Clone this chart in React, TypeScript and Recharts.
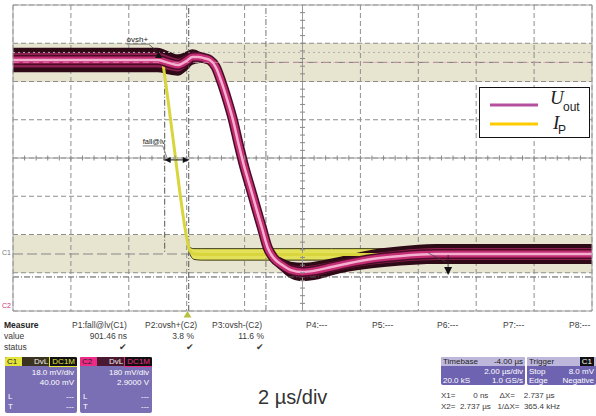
import {
  ComposedChart,
  Line,
  Area,
  XAxis,
  YAxis,
  CartesianGrid,
  ReferenceLine,
  ReferenceDot,
  Legend,
} from 'recharts';

// screen: 10 x 2 µs/div horizontally, 8 div vertically (0 = bottom edge)
const xTicks = [-6, -4, -2, 0, 2, 4, 6, 8, 10, 12, 14];
const yTicks = [0, 1, 2, 3, 4, 5, 6, 7, 8];

// C2 trace, U_out (divisions)
const uTime = [-6, -3, -1, -0.6, -0.3, 0, 0.2, 0.4, 0.6, 0.8, 1.0, 1.2, 1.4, 1.6, 1.8, 2.0, 2.2, 2.4, 2.6, 2.8, 3.0, 3.3, 3.6, 4.0, 4.4, 5.0, 5.6, 6.4, 7.4, 8.6, 10, 12, 14];
const uOut = [6.56, 6.56, 6.56, 6.48, 6.43, 6.54, 6.64, 6.64, 6.61, 6.56, 6.38, 5.99, 5.52, 4.99, 4.34, 3.74, 3.22, 2.69, 2.17, 1.65, 1.39, 1.2, 1.07, 1.02, 1.05, 1.15, 1.25, 1.36, 1.44, 1.49, 1.49, 1.49, 1.49];
// half width of the persistence (noise) band
const uNoise = [0.32, 0.32, 0.32, 0.3, 0.28, 0.25, 0.2, 0.16, 0.12, 0.08, 0.05, 0.04, 0.04, 0.04, 0.04, 0.04, 0.04, 0.04, 0.05, 0.08, 0.12, 0.18, 0.22, 0.24, 0.24, 0.22, 0.22, 0.24, 0.25, 0.26, 0.26, 0.26, 0.26];

// C1 trace, I_P (divisions)
const iTime = [-6, -0.85, -0.75, -0.6, -0.4, -0.2, 0, 0.1, 0.25, 0.5, 5, 10, 14];
const iP = [6.54, 6.54, 6.09, 5.25, 4.08, 2.9, 1.91, 1.59, 1.49, 1.48, 1.48, 1.48, 1.48];
const iNoise = [0.05, 0.05, 0.03, 0.03, 0.03, 0.03, 0.04, 0.08, 0.14, 0.15, 0.15, 0.15, 0.15];

// cursors / measurement markers (µs, div)
const fallStart = -0.76;
const fallEnd = 0.07;
const cursorX2 = 2.737;
const fallArrowY = 3.95;
const ovshPlusAt = { t: -0.97, y: 6.69 };
const ovshMinusAt = { t: 9.03, y: 1.02 };

const paramNames = ['P1:fall@lv(C1)', 'P2:ovsh+(C2)', 'P3:ovsh-(C2)', 'P4:---', 'P5:---', 'P6:---', 'P7:---', 'P8:---'];
const paramValues = ['901.46 ns', '3.8 %', '11.6 %'];

const legendItems = [
  { main: 'U', sub: 'out', color: '#b4519f' },
  { main: 'I', sub: 'P', color: '#ffcc00' },
];

const uData = uTime.map((t, i) => ({
  t,
  u: uOut[i],
  outer: [uOut[i] - uNoise[i], uOut[i] + uNoise[i]],
  inner: [uOut[i] - uNoise[i] * 0.6, uOut[i] + uNoise[i] * 0.6],
}));

const iData = iTime.map((t, i) => ({
  t,
  ip: iP[i],
  band: [iP[i] - iNoise[i], iP[i] + iNoise[i]],
}));

// minor graticule ticks on the centre axes (5 per division)
const minorX = Array.from({ length: 49 }, (_, k) => -6 + (k + 1) * 0.4);
const minorY = Array.from({ length: 39 }, (_, k) => (k + 1) * 0.2);

const panelFont = '"Liberation Sans", Arial, sans-serif';
const paramX = [72, 145, 212, 306, 372, 437, 503, 569];
const valueRight = [127, 194, 264];

function At({ x, y, w, align, size = 8.5, color = '#3a3a3a', bold, children }: any) {
  return (
    <div
      style={{
        position: 'absolute',
        left: x,
        top: y,
        width: w,
        textAlign: align ?? 'left',
        fontSize: size,
        lineHeight: `${size + 2}px`,
        color,
        fontWeight: bold ? 700 : 400,
        whiteSpace: 'pre',
        fontFamily: panelFont,
      }}
    >
      {children}
    </div>
  );
}

const TickV = ({ cx, cy }: any) => <line x1={cx} x2={cx} y1={cy - 2.5} y2={cy + 2.5} stroke="#888" strokeWidth={1} />;
const TickH = ({ cx, cy }: any) => <line x1={cx - 2.5} x2={cx + 2.5} y1={cy} y2={cy} stroke="#888" strokeWidth={1} />;

const OvshPlusMark = ({ cx, cy }: any) => (
  <g fontFamily={panelFont}>
    <path d={`M${cx - 3.5},${cy + 3} L${cx + 3.5},${cy + 3} L${cx},${cy - 4} Z`} fill="#111" />
    <line x1={cx - 2} y1={cy - 4} x2={cx - 10} y2={cy - 11} stroke="#333" strokeWidth={0.7} />
    <line x1={cx - 32} y1={cy - 11} x2={cx - 10} y2={cy - 11} stroke="#333" strokeWidth={0.6} />
    <text x={cx - 32} y={cy - 13} fontSize={8} fill="#222">ovsh+</text>
  </g>
);

const FallLabel = ({ cx, cy }: any) => (
  <g fontFamily={panelFont}>
    <text x={cx - 22} y={cy - 16} fontSize={7.5} fill="#222">fall@lv</text>
    <line x1={cx - 22} y1={cy - 14} x2={cx - 2} y2={cy - 14} stroke="#333" strokeWidth={0.6} />
    <line x1={cx - 2} y1={cy - 14} x2={cx + 2} y2={cy - 3} stroke="#333" strokeWidth={0.6} />
    <path d={`M${cx},${cy} L${cx + 6},${cy - 3} L${cx + 6},${cy + 3} Z`} fill="#111" />
  </g>
);

const ArrowRight = ({ cx, cy }: any) => (
  <path d={`M${cx},${cy} L${cx - 6},${cy - 3} L${cx - 6},${cy + 3} Z`} fill="#111" />
);

const OvshMinusMark = ({ cx, cy }: any) => (
  <g>
    <line x1={cx - 20} y1={cy - 19} x2={cx - 2} y2={cy - 10} stroke="#444" strokeWidth={0.7} />
    <line x1={cx} y1={cy - 17} x2={cx} y2={cy - 3} stroke="#222" strokeWidth={0.8} />
    <path d={`M${cx - 4},${cy - 5} L${cx + 4},${cy - 5} L${cx},${cy + 3} Z`} fill="#111" />
  </g>
);

function ScopeLegend() {
  return (
    <svg width={111} height={51} style={{ display: 'block', background: '#fff', border: '1px solid #111', boxSizing: 'border-box' }}>
      {legendItems.map((it, i) => (
        <g key={it.main}>
          <line x1={10} x2={58} y1={17 + i * 19} y2={17 + i * 19} stroke={it.color} strokeWidth={3} />
          <text x={i === 0 ? 70 : 73} y={i === 0 ? 16 : 41} fontSize={19} fontStyle="italic" fontFamily='"Liberation Serif", "Times New Roman", serif' fill="#222">
            {it.main}
          </text>
          <text x={i === 0 ? 83 : 78} y={i === 0 ? 23 : 46} fontSize={12} fontFamily={panelFont} fill="#222">
            {it.sub}
          </text>
        </g>
      ))}
    </svg>
  );
}

function ChannelBox({ x, label, color, dark, scale, offset }: any) {
  return (
    <div
      style={{
        position: 'absolute',
        left: x,
        top: 357,
        width: 72,
        height: 56,
        background: '#7a6fb4',
        borderRadius: 2,
        overflow: 'hidden',
        fontFamily: panelFont,
        fontSize: 8,
        color: '#fff',
      }}
    >
      <div style={{ display: 'flex', height: 9, lineHeight: '9px', background: dark }}>
        <span style={{ background: color, color: '#222', width: 15, paddingLeft: 2 }}>{label}</span>
        <span style={{ marginLeft: 'auto', padding: '0 2px', color: '#eee' }}>DvL</span>
        <span style={{ background: '#111', color: color, padding: '0 2px', outline: `1px solid ${color}` }}>DC1M</span>
      </div>
      <div style={{ textAlign: 'right', paddingRight: 3, lineHeight: '10px', marginTop: 2 }}>{scale}</div>
      <div style={{ textAlign: 'right', paddingRight: 3, lineHeight: '10px' }}>{offset}</div>
      <div style={{ display: 'flex', justifyContent: 'space-between', padding: '0 3px', lineHeight: '10px', marginTop: 4 }}>
        <span>L</span>
        <span>---</span>
      </div>
      <div style={{ display: 'flex', justifyContent: 'space-between', padding: '0 3px', lineHeight: '10px' }}>
        <span>T</span>
        <span>---</span>
      </div>
    </div>
  );
}

function InfoBox({ x, w, title, titleRight, rows }: any) {
  return (
    <div
      style={{
        position: 'absolute',
        left: x,
        top: 357,
        width: w,
        height: 28,
        background: '#6e63b0',
        borderRadius: 2,
        overflow: 'hidden',
        fontFamily: panelFont,
        fontSize: 8,
        lineHeight: '9px',
        color: '#fff',
      }}
    >
      <div style={{ display: 'flex', justifyContent: 'space-between', background: '#bdb7dc', color: '#222', padding: '0 2px', height: 9 }}>
        <span>{title}</span>
        {titleRight}
      </div>
      {rows.map((r: string[], i: number) => (
        <div key={i} style={{ display: 'flex', justifyContent: 'space-between', padding: '0 2px', height: 9, marginTop: i === 0 ? 0.5 : 0 }}>
          <span>{r[0]}</span>
          <span>{r[1]}</span>
        </div>
      ))}
    </div>
  );
}

export default function App() {
  return (
    <div style={{ position: 'relative', width: 596, height: 416, background: '#fff', overflow: 'hidden' }}>
      <style>{'body{margin:0}'}</style>
      <ComposedChart width={596} height={416} margin={{ top: 5, right: 4, bottom: 105, left: 13 }}>
        <XAxis dataKey="t" type="number" domain={[-6, 14]} ticks={xTicks} hide allowDataOverflow />
        <YAxis type="number" domain={[0, 8]} ticks={yTicks} hide allowDataOverflow />
        <CartesianGrid
          stroke="#8e8e8e"
          strokeDasharray="5 3"
          horizontalFill={['none', '#e7e4cf', 'none', 'none', 'none', 'none', '#e7e4cf', 'none']}
        />
        <ReferenceLine y={4} stroke="#9a9a9a" />
        <ReferenceLine x={4} stroke="#9a9a9a" />
        {minorX.map((t) => (
          <ReferenceDot key={`mx${t}`} x={t} y={4} shape={(p: any) => <TickV {...p} />} />
        ))}
        {minorY.map((v) => (
          <ReferenceDot key={`my${v}`} x={4} y={v} shape={(p: any) => <TickH {...p} />} />
        ))}
        <ReferenceLine y={6.76} stroke="#b0b0b0" strokeDasharray="2 3" />
        <ReferenceLine y={6.5} stroke="#777" strokeDasharray="10 4" />
        <ReferenceLine y={1.49} stroke="#888" strokeDasharray="10 4" />
        <ReferenceLine y={0.89} stroke="#555" strokeDasharray="6 2 1 2" />
        <ReferenceLine x={fallEnd} stroke="#555" strokeDasharray="6 2 1 2" />
        <ReferenceLine x={cursorX2} stroke="#777" strokeDasharray="6 2 1 2" />
        <ReferenceLine segment={[{ x: fallStart, y: 6.1 }, { x: fallStart, y: 1.55 }]} stroke="#555" strokeDasharray="6 2 1 2" />

        <Area data={iData} dataKey="band" type="monotone" fill="#e3e15a" fillOpacity={1} stroke="#3c3c14" strokeWidth={1} dot={false} activeDot={false} legendType="none" isAnimationActive={false} />
        <Line data={iData} dataKey="ip" name="IP" type="monotone" stroke="#d9d53c" strokeWidth={3} dot={false} activeDot={false} isAnimationActive={false} />

        <Area data={uData} dataKey="outer" type="monotone" fill="#2e0a17" fillOpacity={1} stroke="none" dot={false} activeDot={false} legendType="none" isAnimationActive={false} />
        <Area data={uData} dataKey="inner" type="monotone" fill="#8e1d50" fillOpacity={1} stroke="none" dot={false} activeDot={false} legendType="none" isAnimationActive={false} />
        <Line data={uData} dataKey="u" type="monotone" stroke="#4a0d25" strokeWidth={10} dot={false} activeDot={false} legendType="none" isAnimationActive={false} />
        <Line data={uData} dataKey="u" name="Uout" type="monotone" stroke="#c42c74" strokeWidth={7} dot={false} activeDot={false} isAnimationActive={false} />
        <Line data={uData} dataKey="u" type="monotone" stroke="#f4b0cf" strokeWidth={2.5} dot={false} activeDot={false} legendType="none" isAnimationActive={false} />

        <ReferenceLine y={6.5} stroke="#e8a0c0" strokeDasharray="6 4" strokeOpacity={0.6} />
        <ReferenceLine segment={[{ x: fallStart, y: fallArrowY }, { x: fallEnd, y: fallArrowY }]} stroke="#111" strokeWidth={1} />
        <ReferenceDot x={fallStart} y={fallArrowY} shape={(p: any) => <FallLabel {...p} />} />
        <ReferenceDot x={fallEnd} y={fallArrowY} shape={(p: any) => <ArrowRight {...p} />} />
        <ReferenceDot x={ovshPlusAt.t} y={ovshPlusAt.y} shape={(p: any) => <OvshPlusMark {...p} />} />
        <ReferenceDot x={ovshMinusAt.t} y={ovshMinusAt.y} shape={(p: any) => <OvshMinusMark {...p} />} />
        <ReferenceLine y={8} stroke="#a0a0a0" />
        <ReferenceLine y={0} stroke="#a0a0a0" />
        <ReferenceLine x={-6} stroke="#a0a0a0" />
        <ReferenceLine x={14} stroke="#a0a0a0" />

        <Legend
          layout="vertical"
          verticalAlign="middle"
          align="center"
          content={() => <ScopeLegend />}
          wrapperStyle={{ left: 479, top: 87, width: 111, height: 51 }}
        />
      </ComposedChart>

      {/* channel offset markers */}
      <At x={2} y={248} size={7} color="#777">C1</At>
      <At x={2} y={301} size={7} color="#d0307a">C2</At>
      <svg style={{ position: 'absolute', left: 183, top: 311 }} width={9} height={7}>
        <path d="M4.5,0 L8.5,6.5 L0.5,6.5 Z" fill="#b8c040" />
      </svg>

      {/* measurement table */}
      <At x={4} y={320} bold color="#222">Measure</At>
      {paramNames.map((n, i) => (
        <At key={n} x={paramX[i]} y={320}>{n}</At>
      ))}
      <At x={4} y={331}>value</At>
      {paramValues.map((v, i) => (
        <At key={v} x={valueRight[i] - 60} w={60} y={331} align="right">{v}</At>
      ))}
      <At x={4} y={342}>status</At>
      {valueRight.map((r, i) => (
        <At key={i} x={r - 20} w={20} y={342} align="right">✔</At>
      ))}

      <ChannelBox x={5} label="C1" color="#e4e43a" dark="#3a3320" scale="18.0 mV/div" offset="40.00 mV" />
      <ChannelBox x={80} label="C2" color="#ee2a86" dark="#4a1830" scale="180 mV/div" offset="2.9000 V" />

      <At x={258} y={386} size={20} color="#333">2 µs/div</At>

      <InfoBox x={441} w={84} title="Timebase" titleRight={<span>-4.00 µs</span>} rows={[['', '2.00 µs/div'], ['20.0 kS', '1.0 GS/s']]} />
      <InfoBox
        x={527}
        w={69}
        title="Trigger"
        titleRight={<span style={{ background: '#111', color: '#fff', padding: '0 2px' }}>C1</span>}
        rows={[['Stop', '8.0 mV'], ['Edge', 'Negative']]}
      />
      <At x={441} y={391} size={8}>{'X1=        0 ns     ΔX=    2.737 µs'}</At>
      <At x={441} y={402} size={8}>{'X2=  2.737 µs   1/ΔX=  365.4 kHz'}</At>
    </div>
  );
}
